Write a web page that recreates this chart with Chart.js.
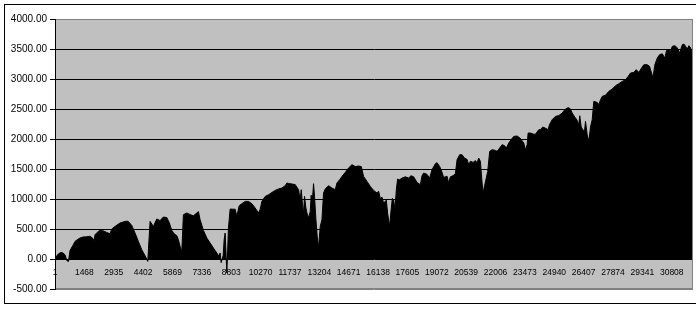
<!DOCTYPE html>
<html>
<head>
<meta charset="utf-8">
<script src="https://cdn.jsdelivr.net/npm/chart.js@4/dist/chart.umd.min.js"></script>
<style>
  html, body { margin: 0; padding: 0; background: #fff; }
  canvas { display: block; }
</style>
</head>
<body>
<canvas id="chart" width="696" height="312"></canvas>
<script>
// category labels shown on the x axis (row numbers)
const tickIndex = [1, 1468, 2935, 4402, 5869, 7336, 8803, 10270, 11737, 13204, 14671,
  16138, 17605, 19072, 20539, 22006, 23473, 24940, 26407, 27874, 29341, 30808];
const lastIndex = 31870;

// y axis ticks
const yTicks = [-500, 0, 500, 1000, 1500, 2000, 2500, 3000, 3500, 4000];

const sampleIndex = [
  1, 100, 200, 300, 400, 500, 600, 675, 750, 850, 915, 1000, 1150, 1250, 1400, 1585, 1750, 1900, 1950, 2000,
  2215, 2400, 2585, 2750, 2835, 3000, 3250, 3500, 3650, 3835, 4000, 4165, 4335, 4500, 4635, 4750, 4915, 5085, 5250, 5415,
  5585, 5715, 5835, 5950, 6085, 6165, 6250, 6335, 6415, 6585, 6750, 6915, 7085, 7165, 7250, 7415, 7585, 7750, 7915, 8085,
  8165, 8250, 8300, 8400, 8450, 8500, 8585, 8665, 8750, 8850, 9000, 9085, 9200, 9335, 9500, 9665, 9835, 10000, 10165, 10250,
  10335, 10500, 10665, 10835, 11000, 11165, 11335, 11500, 11585, 11665, 11835, 12000, 12165, 12250, 12300, 12365, 12415, 12465, 12535, 12585,
  12665, 12750, 12800, 12835, 12915, 12965, 13035, 13100, 13165, 13250, 13335, 13415, 13500, 13665, 13835, 14000, 14085, 14250, 14335, 14500,
  14665, 14835, 15000, 15165, 15300, 15415, 15585, 15750, 15915, 16085, 16165, 16250, 16335, 16415, 16550, 16615, 16715, 16785, 16850, 16915,
  16985, 17050, 17115, 17215, 17335, 17500, 17665, 17785, 17915, 18085, 18250, 18335, 18415, 18585, 18715, 18835, 19000, 19085, 19215, 19335,
  19415, 19500, 19585, 19665, 19750, 19885, 20000, 20085, 20215, 20335, 20450, 20585, 20665, 20750, 20885, 21000, 21085, 21165, 21250, 21335,
  21385, 21465, 21550, 21615, 21715, 21835, 22000, 22085, 22215, 22335, 22450, 22550, 22665, 22785, 22915, 23085, 23250, 23415, 23500, 23585,
  23635, 23750, 23915, 24000, 24165, 24250, 24365, 24500, 24635, 24700, 24835, 25000, 25165, 25335, 25465, 25585, 25665, 25750, 25835, 25965,
  26085, 26165, 26215, 26285, 26365, 26450, 26500, 26585, 26665, 26750, 26835, 26915, 27085, 27165, 27250, 27335, 27500, 27665, 27835, 28000,
  28165, 28335, 28500, 28635, 28750, 28915, 29035, 29165, 29300, 29415, 29585, 29700, 29800, 29865, 29965, 30085, 30200, 30335, 30465, 30550,
  30665, 30750, 30835, 30965, 31085, 31200, 31335, 31415, 31500, 31585, 31665, 31750, 31835, 31870
];
const sampleValue = [
  20, 60, 90, 110, 100, 70, -30, -40, 140, 200, 238, 293, 330, 350, 367, 370, 380, 340, 293, 405,
  477, 470, 443, 420, 500, 543, 600, 627, 630, 560, 433, 293, 155, 55, -40, 627, 543, 667, 640, 700,
  690, 600, 477, 422, 390, 322, 210, 127, 738, 767, 740, 720, 767, 790, 655, 477, 350, 267, 183, 100,
  50, 100, -60, 60, 322, 433, -230, 517, 833, 830, 830, 710, 888, 922, 960, 960, 922, 850, 767, 830,
  960, 1043, 1070, 1110, 1143, 1167, 1183, 1222, 1267, 1260, 1250, 1240, 1155, 988, 1155, 905, 767, 1043, 850, 767,
  683, 793, 1060, 850, 1255, 1040, 655, 377, 190, 543, 655, 1100, 1167, 1222, 1183, 1155, 1267, 1333, 1377, 1443,
  1517, 1572, 1540, 1550, 1540, 1377, 1293, 1210, 1143, 1100, 1130, 1010, 1030, 933, 980, 767, 543, 800, 1010, 988,
  822, 1155, 1333, 1320, 1350, 1370, 1350, 1388, 1370, 1277, 1238, 1388, 1433, 1410, 1350, 1488, 1588, 1605, 1543, 1443,
  1360, 1370, 1380, 1267, 1370, 1388, 1420, 1655, 1738, 1738, 1683, 1660, 1572, 1628, 1610, 1640, 1600, 1683, 1628, 1267,
  1100, 1230, 1360, 1460, 1794, 1822, 1810, 1794, 1850, 1905, 1890, 1850, 1933, 1988, 2043, 2050, 2010, 1933, 1822, 1905,
  2100, 2100, 2080, 2080, 2155, 2155, 2200, 2180, 2155, 2238, 2322, 2377, 2390, 2433, 2488, 2516, 2520, 2500, 2433, 2367,
  2310, 2238, 2388, 2200, 2155, 2130, 2294, 2072, 1960, 2200, 2322, 2627, 2610, 2572, 2655, 2710, 2730, 2794, 2833, 2888,
  2922, 2960, 2988, 3044, 3100, 3110, 3155, 3110, 3183, 3238, 3238, 3210, 3100, 3017, 3238, 3350, 3405, 3420, 3350, 3477,
  3490, 3460, 3544, 3555, 3520, 3433, 3572, 3583, 3544, 3500, 3555, 3520, 3405, 3350
];

const points = sampleIndex.map((x, i) => ({ x: x, y: sampleValue[i] }));

// white page, outer frame and grey plot area like the spreadsheet chart
const backdrop = {
  id: 'backdrop',
  beforeDraw(chart) {
    const ctx = chart.ctx;
    const a = chart.chartArea;
    ctx.save();
    ctx.fillStyle = '#fff';
    ctx.fillRect(0, 0, chart.width, chart.height);
    ctx.strokeStyle = '#000';
    ctx.lineWidth = 1;
    ctx.strokeRect(4.5, 4.5, chart.width + 10, 299);
    ctx.fillStyle = '#c0c0c0';
    ctx.fillRect(a.left, a.top, a.right - a.left, a.bottom - a.top);
    ctx.restore();
  },
  afterDraw(chart) {
    const ctx = chart.ctx;
    const a = chart.chartArea;
    ctx.save();
    ctx.strokeStyle = '#808080';
    ctx.lineWidth = 1;
    ctx.beginPath();
    ctx.moveTo(a.left, a.top + 0.5);
    ctx.lineTo(a.right - 0.5, a.top + 0.5);
    ctx.lineTo(a.right - 0.5, a.bottom - 0.5);
    ctx.lineTo(a.left, a.bottom - 0.5);
    ctx.stroke();
    ctx.strokeStyle = '#000';
    ctx.beginPath();
    ctx.moveTo(a.left + 0.5, a.top);
    ctx.lineTo(a.left + 0.5, a.bottom);
    ctx.stroke();
    ctx.restore();
  }
};

new Chart(document.getElementById('chart').getContext('2d'), {
  type: 'line',
  data: {
    datasets: [{
      data: points,
      fill: 'origin',
      backgroundColor: '#000',
      borderColor: '#000',
      borderWidth: 1,
      pointRadius: 0,
      tension: 0
    }]
  },
  options: {
    responsive: false,
    animation: false,
    devicePixelRatio: 1,
    layout: { padding: { top: 19, right: 3, bottom: 23, left: 0 } },
    plugins: { legend: { display: false }, tooltip: { enabled: false } },
    scales: {
      x: {
        type: 'linear',
        min: 1,
        max: lastIndex,
        position: { y: 0 },
        afterFit: (scale) => { scale.height = 0; },
        afterBuildTicks: (scale) => { scale.ticks = tickIndex.map(v => ({ value: v })); },
        grid: { display: false, drawTicks: false },
        border: { display: false },
        ticks: {
          autoSkip: false,
          maxRotation: 0,
          padding: 9,
          color: '#000',
          font: { family: 'Arial, "Liberation Sans", sans-serif', size: 8.5 },
          callback: (v) => String(v)
        }
      },
      y: {
        min: -500,
        max: 4000,
        afterFit: (scale) => { scale.width = 55; },
        afterBuildTicks: (scale) => { scale.ticks = yTicks.map(v => ({ value: v })); },
        grid: {
          color: (c) => (c.tick && (c.tick.value === 4000 || c.tick.value === -500)) ? '#808080' : '#000',
          tickColor: '#000',
          tickLength: 5,
          lineWidth: 1
        },
        border: { color: '#000', width: 1 },
        ticks: {
          padding: 3,
          color: '#000',
          font: { family: 'Arial, "Liberation Sans", sans-serif', size: 10 },
          callback: (v) => Number(v).toFixed(2)
        }
      }
    }
  },
  plugins: [backdrop]
});
</script>
</body>
</html>
